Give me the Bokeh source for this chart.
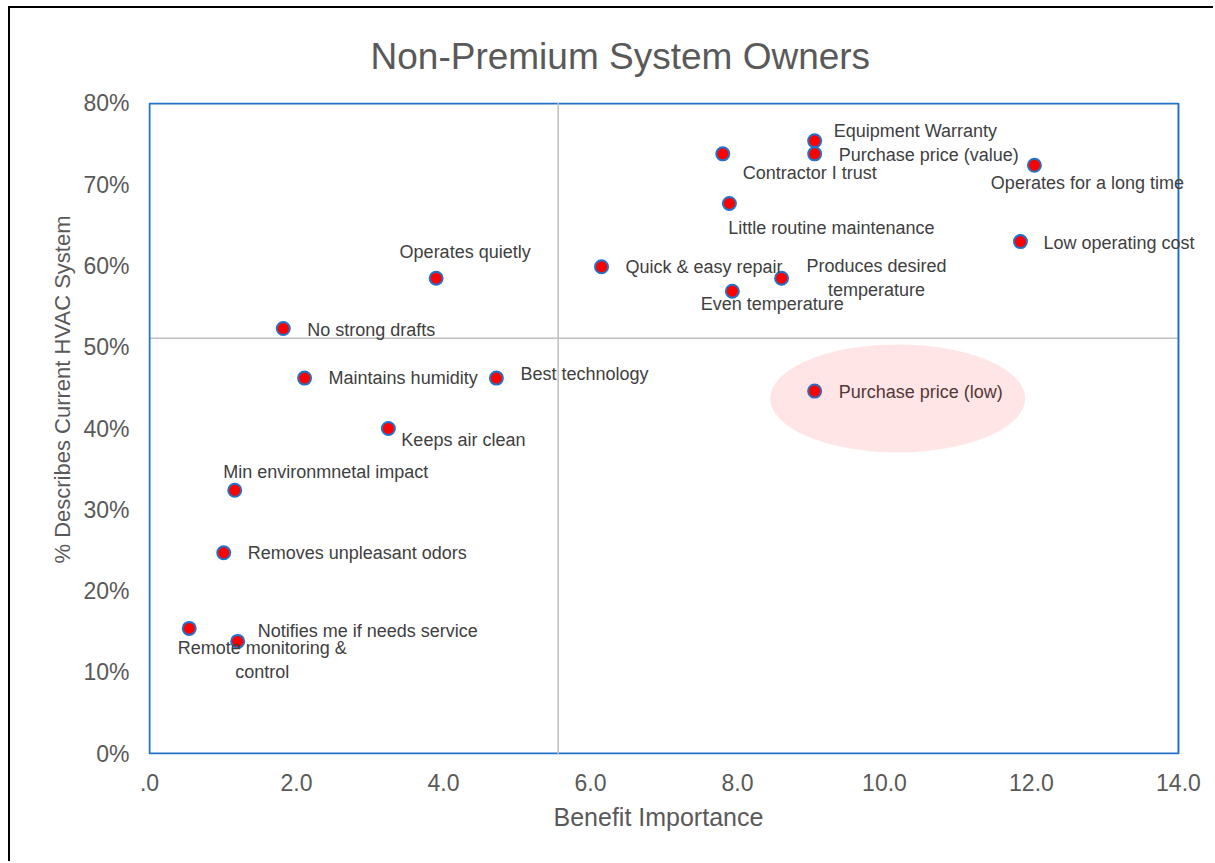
from bokeh.plotting import figure
from bokeh.models import Range1d, FixedTicker, PrintfTickFormatter, Span, Title, ColumnDataSource
from bokeh.core.properties import value
from bokeh.embed import file_html
from bokeh.resources import INLINE

# ---- data ----
benefits = [
    "Equipment Warranty", "Purchase price (value)", "Contractor I trust",
    "Operates for a long time", "Little routine maintenance", "Low operating cost",
    "Quick & easy repair", "Produces desired\ntemperature", "Even temperature",
    "Operates quietly", "No strong drafts", "Maintains humidity", "Best technology",
    "Purchase price (low)", "Keeps air clean", "Min environmnetal impact",
    "Removes unpleasant odors", "Remote monitoring &\ncontrol", "Notifies me if needs service",
]
importance = [9.05, 9.05, 7.80, 12.04, 7.89, 11.85, 6.15, 8.60, 7.93,
              3.90, 1.82, 2.11, 4.72, 9.05, 3.25, 1.16, 1.01, 0.54, 1.20]
describes_pct = [75.4, 73.8, 73.8, 72.4, 67.7, 63.0, 59.9, 58.5, 56.9,
                 58.5, 52.3, 46.2, 46.2, 44.6, 40.0, 32.4, 24.7, 15.4, 13.8]
x_ticks = [0, 2, 4, 6, 8, 10, 12, 14]
y_ticks = [0, 10, 20, 30, 40, 50, 60, 70, 80]
avg_importance = 5.56
avg_describes = 51.1
highlight_center = (10.18, 43.7)
highlight_size = (3.47, 13.3)

x_min, x_max = x_ticks[0], x_ticks[-1]
y_min, y_max = y_ticks[0], y_ticks[-1]

# ---- label layout (screen px offsets) ----
label_dx = [19, 24, 87, 53, 102, 23, 24, 95, 40, 29, 24, 24, 24, 24, 13, 91, 24, 73, 20]
label_dy = [-10, 1, 19, 18, 25, 1, 0, 0, 13, -26, 1, 0, -4, 1, 11, -18, 0, 32, -10]
label_align = ["left", "left", "center", "center", "center", "left", "left", "center", "center",
               "center", "left", "left", "left", "left", "left", "center", "left", "center", "left"]

FONT = "Liberation Sans"
GREY = "#595959"
BLUE = "#2472C8"

src = ColumnDataSource(dict(x=importance, y=describes_pct, label=benefits,
                            dx=label_dx, dy=label_dy, align=label_align))

# the drawing area is a little wider than the plotted box, so labels may run past its right edge
p = figure(width=1205, height=855, output_backend="svg", toolbar_location=None,
           x_range=Range1d(-0.0136, 14.395), y_range=Range1d(-0.123, 80.123),
           min_border_left=138, min_border_right=8, min_border_top=94, min_border_bottom=109)
p.styles = {"border-top": "2px solid black", "border-left": "2px solid black",
            "margin-left": "8px", "margin-top": "6px"}

p.outline_line_color = None
p.grid.visible = False
p.background_fill_color = "white"
p.border_fill_color = "white"

p.title.text = "Non-Premium System Owners"
p.title.align = "left"
p.title.offset = 222
p.title.standoff = 51
p.title.text_font = FONT
p.title.text_font_size = "37px"
p.title.text_font_style = "normal"
p.title.text_color = GREY

for ax in (p.xaxis[0], p.yaxis[0]):
    ax.axis_line_color = None
    ax.major_tick_line_color = None
    ax.minor_tick_line_color = None
    ax.major_label_text_font = FONT
    ax.major_label_text_font_size = "23px"
    ax.major_label_text_color = GREY

p.xaxis.ticker = FixedTicker(ticks=x_ticks)
p.xaxis.formatter = PrintfTickFormatter(format="%.1f")
p.xaxis.major_label_overrides = {0: ".0"}
p.xaxis.major_label_standoff = 13

p.yaxis.ticker = FixedTicker(ticks=y_ticks)
p.yaxis.formatter = PrintfTickFormatter(format="%d%%")
p.yaxis.major_label_standoff = 13

# axis titles (placed relative to the plotted box, like the reference)
p.add_layout(Title(text="Benefit Importance", align="left", offset=405, standoff=15,
                   text_font=FONT, text_font_size="25px", text_font_style="normal",
                   text_color=GREY), "below")
p.add_layout(Title(text="% Describes Current HVAC System", align="left", offset=191, standoff=12,
                   text_font=FONT, text_font_size="22px", text_font_style="normal",
                   text_color=GREY), "left")

# quadrant reference lines
p.add_layout(Span(location=avg_importance, dimension="height", line_color="#BFBFBF", line_width=1.5))
p.segment(x0=[x_min], y0=[avg_describes], x1=[x_max], y1=[avg_describes],
          line_color="#BFBFBF", line_width=1.5)

# plot-area box
p.quad(left=[x_min], right=[x_max], bottom=[y_min], top=[y_max],
       fill_color=None, line_color=BLUE, line_width=2)

p.scatter("x", "y", source=src, size=13, fill_color="#FF0000", line_color=BLUE, line_width=2)
p.text("x", "y", text="label", source=src, x_offset="dx", y_offset="dy", text_align="align",
       text_baseline="middle", text_font=value(FONT), text_font_size="18px", text_color="#404040")

p.ellipse(x=[highlight_center[0]], y=[highlight_center[1]], width=highlight_size[0],
          height=highlight_size[1], fill_color="#FF0000", fill_alpha=0.1, line_color=None)

open("out.html", "w").write(file_html(p, INLINE))
